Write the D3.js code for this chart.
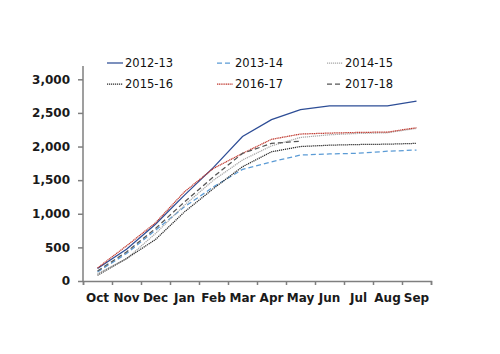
<!DOCTYPE html>
<html>
<head>
<meta charset="utf-8">
<script src="https://cdn.jsdelivr.net/npm/d3@7"></script>
<style>
  body { margin: 0; background: #fff; }
  .tick text { font-family: "DejaVu Sans", sans-serif; font-weight: bold; font-size: 12px; fill: #1a1a1a; }
  .legend text { font-family: "DejaVu Sans", sans-serif; font-size: 11.5px; fill: #111; }
</style>
</head>
<body>
<div id="chart"></div>
<script>
var months = ["Oct", "Nov", "Dec", "Jan", "Feb", "Mar", "Apr", "May", "Jun", "Jul", "Aug", "Sep"];
var yTicks = [0, 500, 1000, 1500, 2000, 2500, 3000];

var seasons = ["2012-13", "2013-14", "2014-15", "2015-16", "2016-17", "2017-18"];
var s1213 = [185, 472, 845, 1277, 1690, 2150, 2400, 2550, 2605, 2605, 2605, 2675];
var s1314 = [134, 408, 755, 1103, 1400, 1660, 1773, 1873, 1890, 1900, 1930, 1948];
var s1415 = [110, 330, 706, 1128, 1500, 1799, 2010, 2135, 2175, 2195, 2205, 2270];
var s1516 = [85, 334, 617, 1028, 1377, 1699, 1922, 2000, 2020, 2030, 2035, 2047];
var s1617 = [194, 522, 865, 1327, 1675, 1898, 2107, 2186, 2200, 2210, 2215, 2280];
var s1718 = [149, 432, 781, 1177, 1550, 1898, 2047, 2080];

var series = [
  { name: seasons[0], values: s1213, color: "#2d4d96", dash: null },
  { name: seasons[1], values: s1314, color: "#5b9bd5", dash: "5,3" },
  { name: seasons[2], values: s1415, color: "#a8a8a8", dash: "1.2,0.8" },
  { name: seasons[3], values: s1516, color: "#2b2b2b", dash: "1.2,0.8" },
  { name: seasons[4], values: s1617, color: "#c0392f", dash: "1.2,0.6" },
  { name: seasons[5], values: s1718, color: "#555555", dash: "5,3" }
];

var svgWidth = 500;
var svgHeight = 354;

var plot = { left: 83, right: 431, top: 79.3, bottom: 281 };

var svg = d3.select("#chart")
  .append("svg")
  .attr("width", svgWidth)
  .attr("height", svgHeight);

var xBand = d3.scaleBand()
  .domain(months)
  .range([plot.left, plot.right]);

var xEdge = d3.scaleLinear()
  .domain([0, months.length])
  .range([plot.left, plot.right]);

var yScale = d3.scaleLinear()
  .domain([0, 3000])
  .range([plot.bottom, plot.top]);

// y axis
var yAxis = svg.append("g")
  .attr("transform", `translate(${plot.left},0)`)
  .call(d3.axisLeft(yScale).tickValues(yTicks).tickSize(5).tickPadding(8).tickFormat(d3.format(",")));
yAxis.select(".domain").attr("d", `M0,66V${plot.bottom}`);

// x axis ticks at category boundaries
svg.append("g")
  .attr("transform", `translate(0,${plot.bottom})`)
  .call(d3.axisBottom(xEdge).tickValues(d3.range(months.length + 1)).tickSize(4).tickFormat(""));

// month labels
var xLabels = svg.append("g")
  .attr("transform", `translate(0,${plot.bottom})`)
  .call(d3.axisBottom(xBand).tickSize(0).tickPadding(12));
xLabels.select(".domain").remove();

svg.selectAll(".domain, .tick line")
  .attr("stroke", "#7f7f7f")
  .attr("stroke-width", 1.5);

var line = d3.line()
  .x(function(d, i) { return xBand(months[i]) + xBand.bandwidth() / 2; })
  .y(function(d) { return yScale(d); });

svg.selectAll(".series")
  .data(series)
  .enter()
  .append("path")
  .attr("class", "series")
  .attr("fill", "none")
  .attr("stroke", d => d.color)
  .attr("stroke-width", 1.25)
  .attr("stroke-dasharray", d => d.dash)
  .attr("d", d => line(d.values));

// legend
var legend = svg.append("g").attr("class", "legend");
var legendX = [107, 217, 327];
var legendY = [63, 84];

var items = legend.selectAll("g")
  .data(series)
  .enter()
  .append("g")
  .attr("transform", (d, i) => `translate(${legendX[i % 3]},${legendY[Math.floor(i / 3)]})`);

items.append("line")
  .attr("x1", 0).attr("x2", 16)
  .attr("y1", 0).attr("y2", 0)
  .attr("stroke", d => d.color)
  .attr("stroke-width", 1.25)
  .attr("stroke-dasharray", d => d.dash);

items.append("text")
  .attr("x", 18)
  .attr("dy", "0.35em")
  .text(d => d.name);
</script>
</body>
</html>
